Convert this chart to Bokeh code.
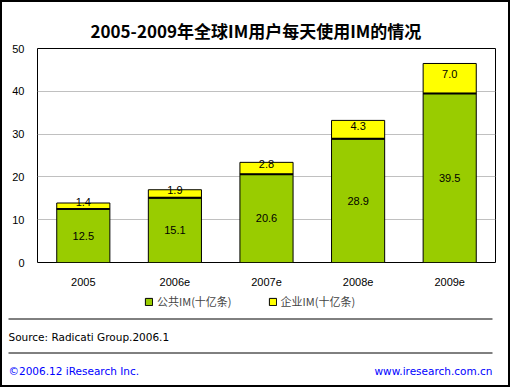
import numpy as np
from bokeh.plotting import figure
from bokeh.layouts import column
from bokeh.models import (FactorRange, Range1d, FixedTicker, Legend, LegendItem, ColumnDataSource)
from bokeh.core.properties import value
from bokeh.embed import file_html
from bokeh.resources import INLINE

years = ["2005", "2006e", "2007e", "2008e", "2009e"]
public_im = [12.5, 15.1, 20.6, 28.9, 39.5]
enterprise_im = [1.4, 1.9, 2.8, 4.3, 7.0]
y_ticks = [0, 10, 20, 30, 40, 50]
title_text = "2005-2009年全球IM用户每天使用IM的情况"
series_names = ["公共IM(十亿条)", "企业IM(十亿条)"]
source_text = "Source: Radicati Group.2006.1"
copyright_text = "©2006.12 iResearch Inc."
url_text = "www.iresearch.com.cn"

GREEN = "#99CC00"
YELLOW = "#FFFF00"
BLUE = "#0000FF"
NUM_FONT = "Liberation Sans"
TXT_FONT = "DejaVu Sans"
CJK_FONT = "Noto Sans CJK SC"

# page geometry (2px outer border)
B = 2
W, H = 510, 387
CW = W - 2 * B
FRAME_L, FRAME_R, FRAME_T, FRAME_B = 37, 495, 48, 262
Y_FOOT0 = 290

src = ColumnDataSource(dict(
    year=years,
    public=public_im,
    total=[a + b for a, b in zip(public_im, enterprise_im)],
    pub_mid=[a / 2 for a in public_im],
    ent_mid=[a + b / 2 for a, b in zip(public_im, enterprise_im)],
    pub_label=["%.1f" % v for v in public_im],
    ent_label=["%.1f" % v for v in enterprise_im],
))

p = figure(width=CW, height=Y_FOOT0 - B,
           x_range=FactorRange(factors=years, range_padding=0),
           y_range=Range1d(0, 50), output_backend="svg", toolbar_location=None,
           min_border_left=FRAME_L - B, min_border_right=B + CW - FRAME_R,
           min_border_top=FRAME_T - B, min_border_bottom=Y_FOOT0 - FRAME_B)
p.title.text = title_text
p.title.align = "left"
p.title.offset = 53
p.title.standoff = 12
p.title.text_font = CJK_FONT
p.title.text_font_size = "17px"
p.title.text_font_style = "bold"
p.title.text_color = "black"
p.background_fill_color = "white"
p.border_fill_color = "white"
p.outline_line_color = "black"

BW = 0.58
g = p.vbar(x="year", bottom=0, top="public", width=BW, fill_color=GREEN,
           line_color="black", line_width=1, source=src)
yb = p.vbar(x="year", bottom="public", top="total", width=BW, fill_color=YELLOW,
            line_color="black", line_width=1, source=src)
p.vbar(x="year", bottom="public", top="public", width=BW, fill_color=None,
       line_color="black", line_width=2, source=src)

p.text(x="year", y="pub_mid", text="pub_label", text_align="center",
       text_baseline="middle", text_font=value(NUM_FONT), text_font_size="11px",
       text_color="black", source=src)
p.text(x="year", y="ent_mid", text="ent_label", text_align="center", y_offset=-4,
       text_baseline="middle", text_font=value(NUM_FONT), text_font_size="11px",
       text_color="black", source=src)

p.yaxis.ticker = FixedTicker(ticks=y_ticks)
p.ygrid.ticker = FixedTicker(ticks=y_ticks)
for ax in (p.xaxis, p.yaxis):
    ax.major_tick_out = 0
    ax.major_tick_in = 0
    ax.minor_tick_out = 0
    ax.minor_tick_in = 0
    ax.axis_line_color = None
    ax.major_label_text_font = NUM_FONT
    ax.major_label_text_font_size = "11px"
    ax.major_label_text_color = "black"
p.yaxis.major_label_standoff = 13
p.xaxis.major_label_standoff = 15
p.xgrid.grid_line_color = None
p.ygrid.grid_line_color = "#C0C0C0"

# footer figure: its data coordinates are page pixels
pf = figure(width=CW, height=H - B - Y_FOOT0, x_range=Range1d(B, B + CW),
            y_range=Range1d(H - B, Y_FOOT0),
            output_backend="svg", toolbar_location=None, min_border=0,
            x_axis_location=None, y_axis_location=None)
for f in (p, pf):
    if "frame_align" in f.properties():
        f.frame_align = False
pf.xgrid.visible = False
pf.ygrid.visible = False
pf.outline_line_color = None
pf.background_fill_color = "white"
pf.border_fill_color = "white"

# legend swatches (legend-only renderers, nothing visible on canvas)
lg = pf.vbar(x=np.array([np.nan]), top=np.array([np.nan]), width=1,
             fill_color=GREEN, line_color="black")
ly = pf.vbar(x=np.array([np.nan]), top=np.array([np.nan]), width=1,
             fill_color=YELLOW, line_color="black")
legend = Legend(items=[LegendItem(label=series_names[0], renderers=[lg]),
                       LegendItem(label=series_names[1], renderers=[ly])],
                location=(144 - B, H - B - 309), orientation="horizontal",
                border_line_color=None, background_fill_alpha=0, padding=5,
                spacing=36, glyph_width=9, glyph_height=9, label_standoff=4,
                label_text_font=CJK_FONT, label_text_font_size="11px", margin=0)
pf.add_layout(legend)

pf.segment(x0=[8, 8], y0=[318.5, 352.5], x1=[492, 492], y1=[318.5, 352.5],
           line_color="black", line_width=1)
pf.text(x=[8], y=[336], text=[source_text], text_align="left", text_baseline="middle",
        text_font=value(TXT_FONT), text_font_size="10.5px", text_color="black")
pf.text(x=[8], y=[370], text=[copyright_text], text_align="left", text_baseline="middle",
        text_font=value(TXT_FONT), text_font_size="10.5px", text_color=BLUE)
pf.text(x=[492], y=[370], text=[url_text], text_align="right", text_baseline="middle",
        text_font=value(TXT_FONT), text_font_size="10.5px", text_color=BLUE)

layout = column(p, pf, spacing=0, styles={"border": "2px solid black"})

open("out.html", "w").write(file_html(layout, INLINE))
